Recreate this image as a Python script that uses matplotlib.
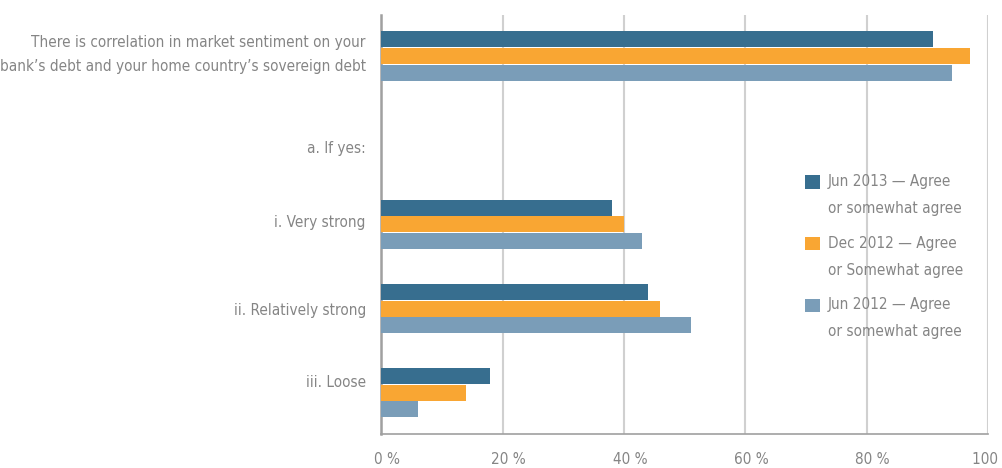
import numpy as np
import matplotlib.pyplot as plt
import matplotlib.transforms as mtransforms
from matplotlib import font_manager
from matplotlib.patches import Rectangle
from matplotlib.container import BarContainer
from matplotlib.legend_handler import HandlerPatch, update_from_first_child

# Buscar una fuente estrecha instalada
estrechas = [f for f in font_manager.fontManager.ttflist
             if f.stretch in ('condensed', 'semi-condensed', 'extra-condensed', 500, 300, 400)
             or 'Narrow' in f.name or 'Condensed' in f.name]
if estrechas:
    fuente = estrechas[0].name
    plt.rcParams['font.stretch'] = 'condensed'
    tam = 11
else:
    fuente = 'Roboto'
    tam = 9
plt.rcParams['font.family'] = [fuente, 'DejaVu Sans']

categorias = [
    "There is correlation in market sentiment on your\nbank\u2019s debt and your home country\u2019s sovereign debt",
    "a. If yes:",
    "i. Very strong",
    "ii. Relatively strong",
    "iii. Loose",
]
jun_2013 = [91, np.nan, 38, 44, 18]
dic_2012 = [97, np.nan, 40, 46, 14]
jun_2012 = [94, np.nan, 43, 51, 6]

series = [
    ("Jun 2013 \u2014 Agree\nor somewhat agree", jun_2013, "#376e8f"),
    ("Dec 2012 \u2014 Agree\nor Somewhat agree", dic_2012, "#f9a633"),
    ("Jun 2012 \u2014 Agree\nor somewhat agree", jun_2012, "#7a9db8"),
]
ticks_x = [0, 20, 40, 60, 80, 100]
gris = "#858585"
interlineado = 1.75

fig = plt.figure(figsize=(10.03, 4.68), dpi=100)
ax = fig.add_axes([0.380, 0.073, 0.605, 0.895])

y = np.arange(len(categorias))
alto = 0.2
for k, (nombre, valores, color) in enumerate(series):
    ax.barh(y + (k - 1) * alto, valores, height=0.19, color=color, label=nombre, zorder=3)

ax.set_xlim(0, 100)
ax.set_ylim(len(categorias) - 0.51, -0.49)
ax.set_yticks(y)
ax.set_yticklabels(categorias, fontsize=tam, color=gris, linespacing=interlineado)
ax.set_xticks(ticks_x)
ax.set_xticklabels([f"{t} %" for t in ticks_x], fontsize=tam, color=gris)
ax.tick_params(axis='both', length=0)
ax.tick_params(axis='y', pad=11)
ax.tick_params(axis='x', pad=13)

# desplazar un poco las etiquetas del eje x
desplazamiento = mtransforms.ScaledTranslation(6 / 100, 0, fig.dpi_scale_trans)
for etiqueta in ax.get_xticklabels():
    etiqueta.set_transform(etiqueta.get_transform() + desplazamiento)

# ajuste vertical de las etiquetas del eje y (en píxeles, positivo hacia abajo)
ajustes_y = [-8, 7, -3, 0, -12]
for etiqueta, dy in zip(ax.get_yticklabels(), ajustes_y):
    etiqueta.set_transform(etiqueta.get_transform()
                           + mtransforms.ScaledTranslation(0, -dy / 100, fig.dpi_scale_trans))

ax.grid(axis='x', color="#d0d0d0", linewidth=1.5, zorder=0)
for lado in ['top', 'right']:
    ax.spines[lado].set_visible(False)
ax.spines['left'].set_color("#a0a0a0")
ax.spines['left'].set_linewidth(1.8)
ax.spines['bottom'].set_color("#a0a0a0")
ax.spines['bottom'].set_linewidth(1.2)


# cuadrito de la leyenda alineado con la primera línea del texto
def cuadro_arriba(legend, orig_handle, xdescent, ydescent, width, height, fontsize):
    return Rectangle((-xdescent, -ydescent + 0.9 * fontsize), width, height)


leg = ax.legend(loc='upper left', bbox_to_anchor=(0.698, 0.621), frameon=False,
                fontsize=tam, labelcolor=gris, handlelength=1.0, handleheight=1.0,
                handletextpad=0.5, labelspacing=1.3, borderaxespad=0, borderpad=0,
                handler_map={BarContainer: HandlerPatch(patch_func=cuadro_arriba,
                                                        update_func=update_from_first_child)})
for t in leg.get_texts():
    t.set_linespacing(2.0)

fig.savefig("out.png", dpi=100)
